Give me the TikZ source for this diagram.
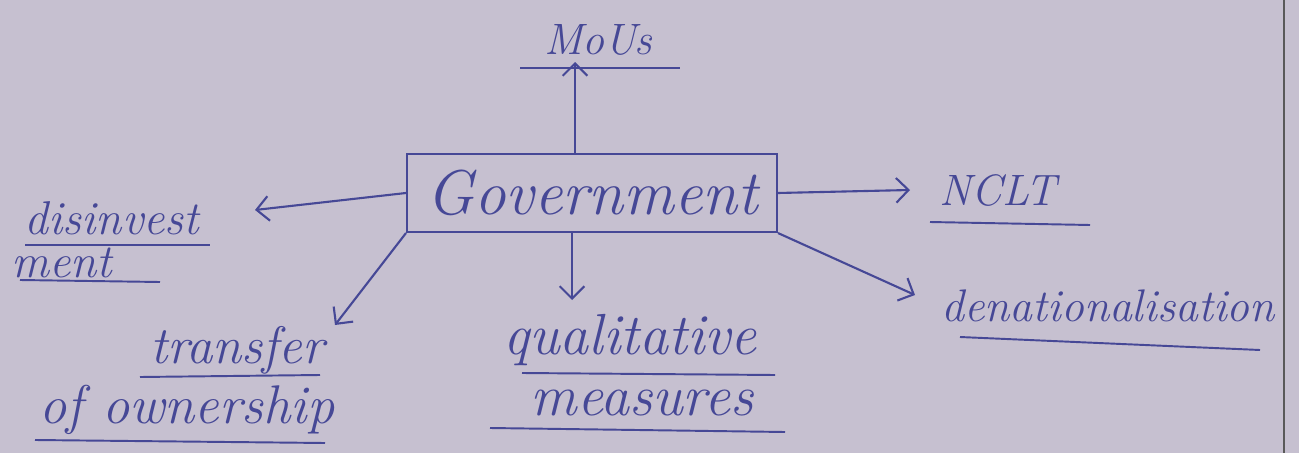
\documentclass[tikz,border=0pt]{standalone}
\usetikzlibrary{arrows.meta}
\definecolor{paper}{RGB}{198,192,208}
\definecolor{ink}{RGB}{70,72,150}
\begin{document}
\begin{tikzpicture}[x=0.02cm,y=-0.02cm,
  hw/.style={text=ink, inner sep=0pt, font=\itshape\fontsize{30}{36}\selectfont},
  ul/.style={draw=ink, line width=1.1pt},
  conn/.style={draw=ink, line width=1.2pt, -{Straight Barb[length=7pt,width=14pt]}},
  govbox/.style={draw=ink, line width=1.2pt, minimum width=7.4cm, minimum height=1.56cm, inner sep=0pt}]
\fill[paper] (0,0) rectangle (1299,453);
\useasboundingbox (0,0) rectangle (1299,453);
\draw[line width=1.6pt, black!65] (1284,0) -- (1284,453);

% central box
\node[govbox, hw, font=\itshape\fontsize{36}{40}\selectfont] (gov) at (592,193) {Government};

% MoUs
\node[hw, font=\itshape\fontsize{25}{30}\selectfont] (mous) at (598,40) {MoUs};
\coordinate (mousend) at (575,62);
\draw[ul] (520,68) -- (680,68);
\draw[conn] (gov.north -| mousend) -- (mousend);

% NCLT
\node[hw, font=\itshape\fontsize{25}{30}\selectfont] (nclt) at (998,190) {NCLT};
\coordinate (ncltend) at (910,190);
\draw[ul] (930,222) -- (1090,225);
\draw[conn] (gov.east) -- (ncltend);

% disinvestment
\node[hw, font=\itshape\fontsize{27}{32}\selectfont] (dis1) at (112,218) {disinvest};
\node[hw, font=\itshape\fontsize{27}{32}\selectfont] (dis2) at (62,263) {ment};
\coordinate (disend) at (255,210);
\draw[ul] (25,245) -- (210,245);
\draw[ul] (20,280) -- (160,282);
\draw[conn] (gov.west) -- (disend);

% transfer of ownership
\node[hw, font=\itshape\fontsize{30}{36}\selectfont] (tr1) at (237,350) {transfer};
\node[hw, font=\itshape\fontsize{31}{36}\selectfont] (tr2) at (187,410) {of ownership};
\coordinate (trend) at (335,325);
\draw[ul] (140,377) -- (320,375);
\draw[ul] (35,440) -- (325,443);
\draw[conn] (gov.south west) -- (trend);

% qualitative measures
\node[hw, font=\itshape\fontsize{33}{38}\selectfont] (q1) at (630,340) {qualitative};
\node[hw, font=\itshape\fontsize{33}{38}\selectfont] (q2) at (642,403) {measures};
\coordinate (qend) at (572,300);
\draw[ul] (522,373) -- (775,375);
\draw[ul] (490,428) -- (785,432);
\draw[conn] (gov.south -| qend) -- (qend);

% denationalisation
\node[hw, font=\itshape\fontsize{26}{32}\selectfont] (den) at (1108,306) {denationalisation};
\coordinate (denend) at (915,295);
\draw[ul] (960,337) -- (1260,350);
\draw[conn] (gov.south east) -- (denend);
\end{tikzpicture}
\end{document}
